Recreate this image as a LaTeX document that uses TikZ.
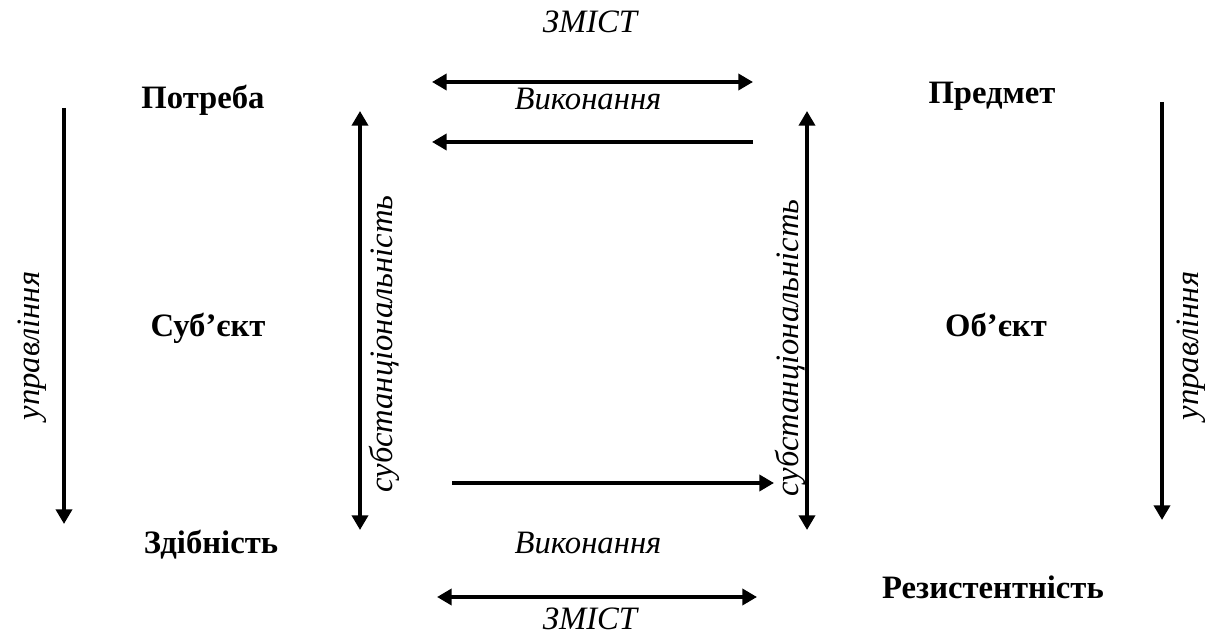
\documentclass[tikz,border=0pt]{standalone}
\usepackage{fontspec}
\setmainfont{Liberation Serif}
\usetikzlibrary{arrows.meta}
\begin{document}
\begin{tikzpicture}[x=0.75pt,y=-0.75pt,
  lbl/.style={font=\fontsize{24.5}{29}\selectfont\bfseries, inner sep=0pt, anchor=base},
  itl/.style={font=\fontsize{24.5}{29}\selectfont\itshape, inner sep=0pt, anchor=base},
  rot/.style={font=\fontsize{24.5}{29}\selectfont\itshape, inner sep=0pt, rotate=90},
  tip/.tip={Triangle[length=11pt,width=12pt]},
  arr/.style={line width=3.6pt, -tip},
  darr/.style={line width=3.6pt, tip-tip}]
\useasboundingbox (0,0) rectangle (1207,634);
% labels
\node[itl] (zmist1) at (590,33) {ЗМІСТ};
\node[itl] (vyk1) at (588,110) {Виконання};
\node[lbl] (potreba) at (203,109) {Потреба};
\node[lbl] (predmet) at (992,104) {Предмет};
\node[lbl] (subj) at (208,337) {Суб’єкт};
\node[lbl] (obj) at (996,337) {Об’єкт};
\node[lbl] (zdib) at (211,553) {Здібність};
\node[itl] (vyk2) at (588,553) {Виконання};
\node[lbl] (rezyst) at (993,598) {Резистентність};
\node[itl] (zmist2) at (590,629) {ЗМІСТ};
\node[rot] (upr1) at (32,346) {управління};
\node[rot] (upr2) at (1191,346) {управління};
\node[rot] (sub1) at (384,344) {субстанціональність};
\node[rot] (sub2) at (790,348) {субстанціональність};
% arrow end points
\coordinate (a1) at (64,108);  \coordinate (a2) at (64,524);
\coordinate (b1) at (1162,102); \coordinate (b2) at (1162,520);
\coordinate (c1) at (360,111); \coordinate (c2) at (360,530);
\coordinate (d1) at (807,111); \coordinate (d2) at (807,530);
\coordinate (e1) at (432,82);  \coordinate (e2) at (753,82);
\coordinate (f1) at (753,142); \coordinate (f2) at (432,142);
\coordinate (g1) at (452,483); \coordinate (g2) at (774,483);
\coordinate (h1) at (437,597); \coordinate (h2) at (757,597);
% arrows
\draw[arr] (a1) -- (a2);
\draw[arr] (b1) -- (b2);
\draw[darr] (c1) -- (c2);
\draw[darr] (d1) -- (d2);
\draw[darr] (e1) -- (e2);
\draw[arr] (f1) -- (f2);
\draw[arr] (g1) -- (g2);
\draw[darr] (h1) -- (h2);
\end{tikzpicture}
\end{document}
